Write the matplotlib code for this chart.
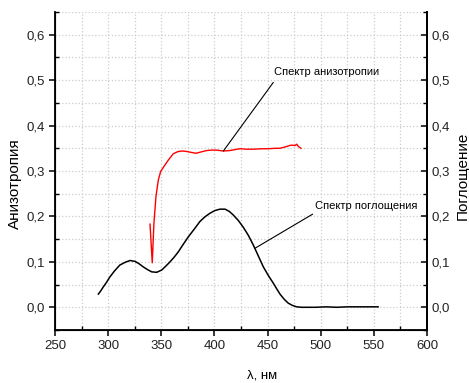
import numpy as np
import matplotlib
matplotlib.use('Agg')
import matplotlib.pyplot as plt
from matplotlib.ticker import MultipleLocator, FuncFormatter

plt.rcParams['font.family'] = ['Liberation Sans', 'DejaVu Sans']

# ── Data ──────────────────────────────────────────────────────────────────────
# absorption spectrum (black)
abs_wl  = [290.8, 293.0, 295.5, 298.5, 301.7, 306.0, 311.0, 316.0, 320.6, 325.3,
           329.0, 333.0, 337.0, 341.0, 345.7, 350.4, 354.0, 358.2, 362.0, 366.0,
           370.5, 375.4, 381.0, 386.4, 391.0, 395.8, 400.5, 405.2, 410.0, 414.0,
           417.8, 422.5, 427.2, 432.0, 436.6, 441.3, 446.0, 450.7, 455.4, 458.5,
           461.7, 465.5, 469.5, 473.5, 477.4, 482.0, 487.0, 495.0, 505.0, 515.0,
           525.0, 535.0, 545.0, 554.0]
abs_val = [0.029, 0.036, 0.045, 0.055, 0.067, 0.080, 0.093, 0.099, 0.103, 0.101,
           0.096, 0.089, 0.083, 0.078, 0.077, 0.082, 0.090, 0.100, 0.110, 0.122,
           0.138, 0.155, 0.172, 0.189, 0.199, 0.207, 0.213, 0.216, 0.216, 0.211,
           0.203, 0.191, 0.176, 0.158, 0.137, 0.113, 0.089, 0.070, 0.053, 0.041,
           0.029, 0.018, 0.009, 0.004, 0.001, 0.000, 0.000, 0.000, 0.001, 0.000,
           0.001, 0.001, 0.001, 0.001]

# anisotropy spectrum (red)
ani_wl  = [339.4, 341.5, 343.1, 345.0, 347.2, 349.4, 352.5, 356.6, 361.3, 366.0,
           370.0, 373.8, 378.0, 382.7, 387.5, 392.7, 397.5, 402.0, 408.4, 414.6,
           419.0, 424.0, 430.0, 437.0, 444.0, 451.0, 457.0, 461.7, 465.0, 468.0,
           470.5, 472.7, 475.8, 477.4, 479.0, 481.4]
ani_val = [0.183, 0.098, 0.186, 0.244, 0.280, 0.299, 0.310, 0.324, 0.338, 0.343,
           0.344, 0.343, 0.341, 0.339, 0.342, 0.345, 0.346, 0.346, 0.344, 0.345,
           0.347, 0.349, 0.348, 0.348, 0.349, 0.349, 0.350, 0.350, 0.352, 0.354,
           0.356, 0.357, 0.356, 0.359, 0.354, 0.350]

x_ticks = [250, 300, 350, 400, 450, 500, 550, 600]
y_ticks = [0.0, 0.1, 0.2, 0.3, 0.4, 0.5, 0.6]

GRID = dict(color='#cccccc', linestyle=':', linewidth=0.9)
comma = FuncFormatter(lambda v, pos: f'{v:.1f}'.replace('.', ','))

fig = plt.figure(figsize=(4.69, 3.83), dpi=100)
ax = fig.add_axes([55 / 469, 1 - 330 / 383, 372 / 469, 318 / 383])

ax.plot(abs_wl, abs_val, color='black', lw=1.1)
ax.plot(ani_wl, ani_val, color='#ff0000', lw=1.0)

ax.set_xlim(250, 600)
ax.set_ylim(-0.05, 0.65)
ax.xaxis.set_minor_locator(MultipleLocator(25))
ax.yaxis.set_minor_locator(MultipleLocator(0.05))
ax.set_yticks(y_ticks)
ax.set_xticks(x_ticks)
ax.yaxis.set_major_formatter(comma)
ax.grid(True, which='both', **GRID)
ax.set_axisbelow(True)

ax.spines['top'].set_visible(False)
for s in ('left', 'bottom', 'right'):
    ax.spines[s].set_linewidth(1.3)
ax.tick_params(which='major', direction='out', length=4, width=1.1,
               labelsize=9.5, colors='black', labelcolor='#222222')
ax.tick_params(which='minor', direction='in', length=3, width=1.0)
ax.tick_params(axis='y', which='both', right=False)

axr = ax.twinx()
axr.set_ylim(ax.get_ylim())
axr.yaxis.set_minor_locator(MultipleLocator(0.05))
axr.set_yticks(y_ticks)
axr.yaxis.set_major_formatter(comma)
axr.spines['top'].set_visible(False)
axr.spines['right'].set_linewidth(1.3)
axr.tick_params(which='major', direction='in', length=4, width=1.1,
                labelsize=9.5, labelcolor='#222222')
axr.tick_params(which='minor', direction='in', length=3, width=1.0)

# annotations: leader lines + labels
ann_font = dict(family=['Liberation Sans Narrow', 'Liberation Sans'], fontsize=8)
line_kw = dict(arrowstyle='-', color='black', lw=0.8, shrinkA=0, shrinkB=0)
ax.annotate('', xy=(408.4, 0.344), xytext=(455.4, 0.495), arrowprops=line_kw)
ax.text(455.6, 0.518, 'Спектр анизотропии', ha='left', va='center', **ann_font)
ax.annotate('', xy=(438.2, 0.130), xytext=(492.4, 0.205), arrowprops=line_kw)
ax.text(494.5, 0.222, 'Спектр поглощения', ha='left', va='center', **ann_font)

fig.text(15 / 469, 1 - 184 / 383, 'Анизотропия', rotation=90, ha='center',
         va='center', fontsize=11)
fig.text(463 / 469, 1 - 176 / 383, 'Поглощение', rotation=90, ha='center',
         va='center', fontsize=11)
fig.text(262 / 469, 1 - 375 / 383, 'λ, нм', ha='center', va='center',
         fontsize=9.5)

fig.savefig('out.png', dpi=100)
